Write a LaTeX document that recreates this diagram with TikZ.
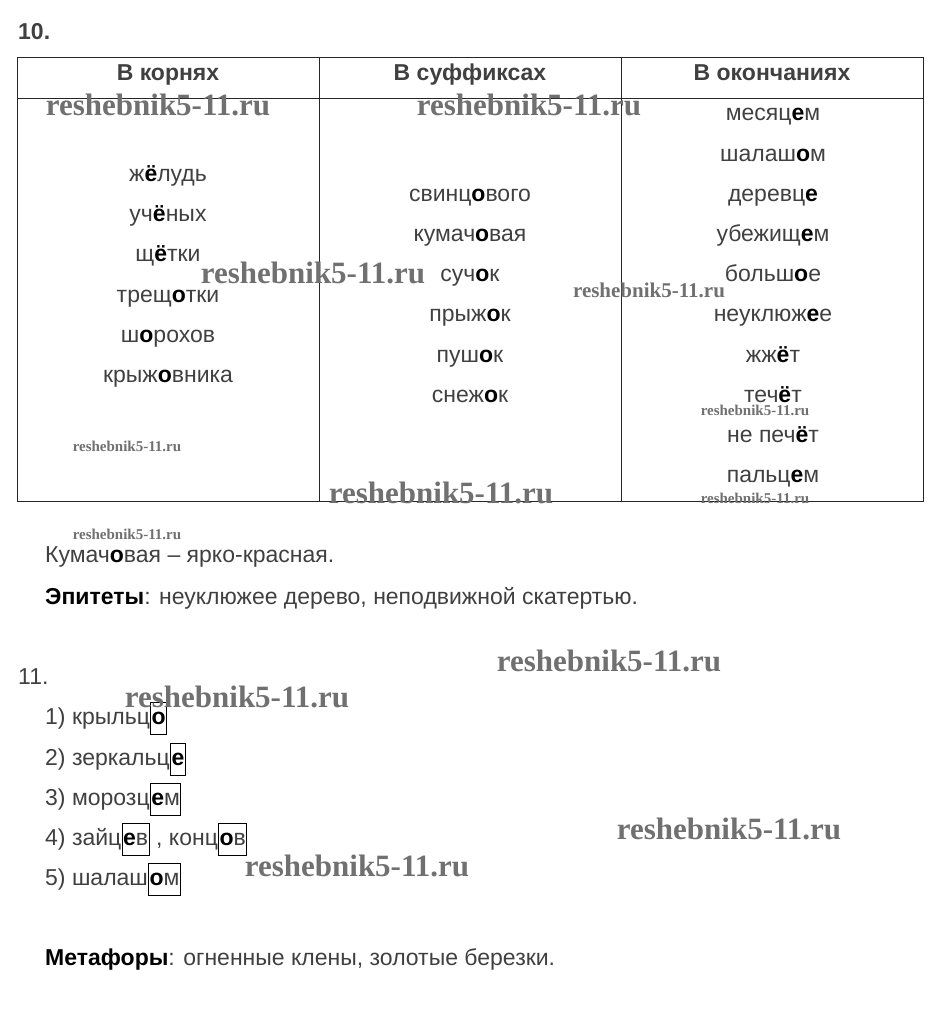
\documentclass[tikz,border=0pt]{standalone}
\usepackage{fontspec}
\setmainfont{Liberation Sans}
\newfontfamily\wmfont{Liberation Serif}
\usetikzlibrary{positioning}
\definecolor{txt}{HTML}{404040}
\definecolor{wmgray}{HTML}{707070}
\newcommand{\bk}[1]{\textbf{\color{black}#1}}

\begin{document}
\begin{tikzpicture}[x=1pt,y=-1pt]
\tikzstyle{every node}=[inner sep=0pt, text height=22pt, text depth=5pt, text=txt, font=\fontsize{23}{27}\selectfont]
\tikzstyle{head}=[font=\bfseries\fontsize{23}{27}\selectfont]
\tikzstyle{line}=[anchor=west]
\tikzstyle{box}=[draw=black, line width=1pt, inner xsep=1pt, inner ysep=3pt, text height=19pt, text depth=7pt, anchor=base west]
\tikzstyle{wm}=[text=wmgray, text height=, text depth=, font=\wmfont\bfseries\fontsize{31}{31}\selectfont]
\tikzstyle{wmm}=[wm, font=\wmfont\bfseries\fontsize{21}{21}\selectfont]
\tikzstyle{wms}=[wm, font=\wmfont\bfseries\fontsize{15}{15}\selectfont]
\useasboundingbox (0,0) rectangle (936,1018);

\draw (18,31) node (n10) [line, head] {10.};
% table
\draw[line width=1pt, black!85] (17,57) rectangle (923,501);
\draw[line width=1pt, black!85] (17,98) -- (923,98);
\draw[line width=1pt, black!85] (319,57) -- (319,501);
\draw[line width=1pt, black!85] (621,57) -- (621,501);
\draw (168,72) node (h1) [head] {В корнях};
\draw (470,72) node (h2) [head] {В суффиксах};
\draw (772,72) node (h3) [head] {В окончаниях};

\draw (168,173) node (k1) {ж\bk{ё}лудь};
\draw (168,213) node (k2) {уч\bk{ё}ных};
\draw (168,253) node (k3) {щ\bk{ё}тки};
\draw (168,294) node (k4) {трещ\bk{о}тки};
\draw (168,334) node (k5) {ш\bk{о}рохов};
\draw (168,374) node (k6) {крыж\bk{о}вника};

\draw (470,193) node (s1) {свинц\bk{о}вого};
\draw (470,233) node (s2) {кумач\bk{о}вая};
\draw (470,273) node (s3) {суч\bk{о}к};
\draw (470,313) node (s4) {прыж\bk{о}к};
\draw (470,354) node (s5) {пуш\bk{о}к};
\draw (470,394) node (s6) {снеж\bk{о}к};

\draw (773,112) node (o1) {месяц\bk{е}м};
\draw (773,153) node (o2) {шалаш\bk{о}м};
\draw (773,193) node (o3) {деревц\bk{е}};
\draw (773,233) node (o4) {убежищ\bk{е}м};
\draw (773,273) node (o5) {больш\bk{о}е};
\draw (773,313) node (o6) {неуклюж\bk{е}е};
\draw (773,354) node (o7) {жж\bk{ё}т};
\draw (773,394) node (o8) {теч\bk{ё}т};
\draw (773,434) node (o9) {не печ\bk{ё}т};
\draw (773,474) node (o10) {пальц\bk{е}м};

\draw (45,554) node (t1) [line] {Кумач\bk{о}вая – ярко-красная.};
\draw (45,596) node (t2) [line] {\bk{Эпитеты}: неуклюжее дерево, неподвижной скатертью.};

\draw (18,676) node (n11) [line] {11.};
\draw (45,716) node (p1) [line] {1) крыльц};
\node (b1) [box] at (p1.base east) {\bk{о}};
\draw (45,757) node (p2) [line] {2) зеркальц};
\node (b2) [box] at (p2.base east) {\bk{е}};
\draw (45,797) node (p3) [line] {3) морозц};
\node (b3) [box] at (p3.base east) {\bk{е}м};
\draw (45,837) node (p4) [line] {4) зайц};
\node (b4) [box] at (p4.base east) {\bk{е}в};
\node (q4) [anchor=base west] at (b4.base east) {\ , конц};
\node (c4) [box] at (q4.base east) {\bk{о}в};
\draw (45,877) node (p5) [line] {5) шалаш};
\node (b5) [box] at (p5.base east) {\bk{о}м};

\draw (45,957) node (t3) [line] {\bk{Метафоры}: огненные клены, золотые березки.};

% watermarks
\draw (158,105) node (w1) [wm] {reshebnik5-11.ru};
\draw (529,105) node (w2) [wm] {reshebnik5-11.ru};
\draw (313,273) node (w3) [wm] {reshebnik5-11.ru};
\draw (649,290) node (w4) [wmm] {reshebnik5-11.ru};
\draw (127,446) node (w5) [wms] {reshebnik5-11.ru};
\draw (755,410) node (w6) [wms] {reshebnik5-11.ru};
\draw (441,493) node (w7) [wm] {reshebnik5-11.ru};
\draw (755,498) node (w8) [wms] {reshebnik5-11.ru};
\draw (127,534) node (w9) [wms] {reshebnik5-11.ru};
\draw (609,661) node (w10) [wm] {reshebnik5-11.ru};
\draw (237,697) node (w11) [wm] {reshebnik5-11.ru};
\draw (729,829) node (w12) [wm] {reshebnik5-11.ru};
\draw (357,866) node (w13) [wm] {reshebnik5-11.ru};
\end{tikzpicture}
\end{document}
